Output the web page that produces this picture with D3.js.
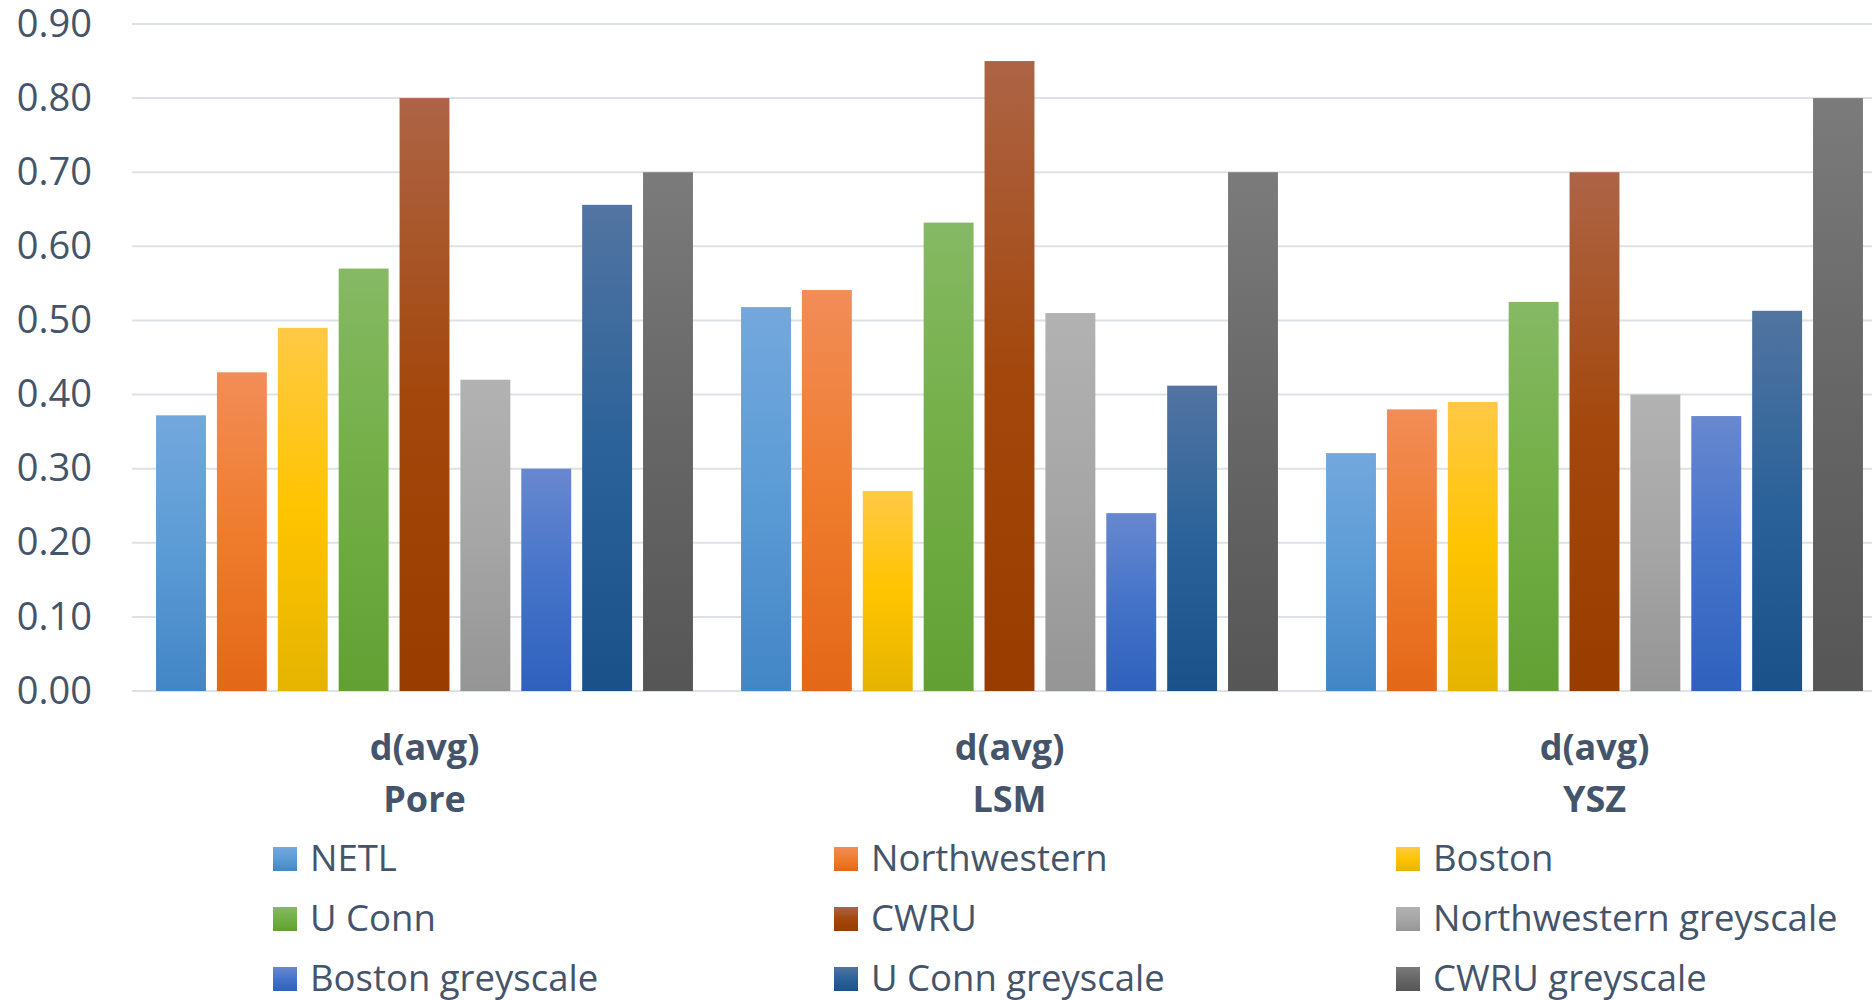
<!DOCTYPE html>
<html>
<head>
<meta charset="utf-8">
<script src="https://cdn.jsdelivr.net/npm/d3@7/dist/d3.min.js"></script>
<style>
  html, body { margin: 0; padding: 0; background: #ffffff; }
  svg { display: block; font-family: "Open Sans", sans-serif; }
</style>
</head>
<body>
<svg id="chart" width="1872" height="1000"></svg>
<script>
// Mean diameter d(avg) for each phase, per lab / segmentation
const categories = ["Pore", "LSM", "YSZ"];
const seriesNames = [
  "NETL", "Northwestern", "Boston", "U Conn", "CWRU",
  "Northwestern greyscale", "Boston greyscale", "U Conn greyscale", "CWRU greyscale"
];
const netl         = [0.372, 0.518, 0.321];
const northwestern = [0.43, 0.541, 0.38];
const boston       = [0.49, 0.27, 0.39];
const uconn        = [0.57, 0.632, 0.525];
const cwru         = [0.80, 0.85, 0.70];
const nwGrey       = [0.42, 0.51, 0.40];
const bostonGrey   = [0.30, 0.24, 0.371];
const uconnGrey    = [0.656, 0.412, 0.513];
const cwruGrey     = [0.70, 0.70, 0.80];
const yTicks = [0, 0.1, 0.2, 0.3, 0.4, 0.5, 0.6, 0.7, 0.8, 0.9];

const seriesValues = [netl, northwestern, boston, uconn, cwru, nwGrey, bostonGrey, uconnGrey, cwruGrey];

// light / base / dark stops for each series' vertical gradient
const seriesColors = [
  ["#73a8dd", "#5b9bd5", "#4386c6"],
  ["#f18d58", "#ef7c2e", "#e36817"],
  ["#ffc945", "#ffc400", "#e5b400"],
  ["#86b964", "#72ae45", "#62a034"],
  ["#ad6446", "#a3470c", "#993c00"],
  ["#b2b2b2", "#a6a6a6", "#959595"],
  ["#6888cf", "#4573c9", "#2f61bd"],
  ["#5274a1", "#2b6299", "#1a5189"],
  ["#7b7b7b", "#666666", "#565656"]
];

const textColor = "#44546a";
const svg = d3.select("#chart");

const plotLeft = 132, plotRight = 1887, plotTop = 24, plotBottom = 691;

const y = d3.scaleLinear().domain([0, 0.9]).range([plotBottom, plotTop]);
const x0 = d3.scaleBand().domain(categories).range([plotLeft, plotRight]).padding(0);
const x1 = d3.scaleBand().domain(seriesNames).range([0, x0.bandwidth()])
  .paddingInner(0.18).paddingOuter(0.395);

// gradients
const defs = svg.append("defs");
seriesNames.forEach((name, i) => {
  const g = defs.append("linearGradient")
    .attr("id", "grad" + i)
    .attr("x1", 0).attr("y1", 0).attr("x2", 0).attr("y2", 1);
  g.append("stop").attr("offset", "0%").attr("stop-color", seriesColors[i][0]);
  g.append("stop").attr("offset", "50%").attr("stop-color", seriesColors[i][1]);
  g.append("stop").attr("offset", "100%").attr("stop-color", seriesColors[i][2]);
});

// gridlines
svg.append("g")
  .selectAll("line")
  .data(yTicks)
  .join("line")
  .attr("x1", plotLeft).attr("x2", plotRight)
  .attr("y1", d => y(d)).attr("y2", d => y(d))
  .attr("stroke", "#dde2e8")
  .attr("stroke-width", 2);

// y axis labels
const yAxis = d3.axisLeft(y).tickValues(yTicks).tickFormat(d3.format(".2f")).tickSize(0).tickPadding(40);
const yg = svg.append("g").attr("transform", `translate(${plotLeft},0)`).call(yAxis);
yg.select(".domain").remove();
yg.selectAll("text")
  .attr("fill", textColor)
  .style("font-family", "'Open Sans', sans-serif")
  .style("font-size", "38px");

// bars
const groups = svg.append("g")
  .selectAll("g")
  .data(categories)
  .join("g")
  .attr("transform", d => `translate(${x0(d)},0)`);

groups.selectAll("rect")
  .data((c, ci) => seriesNames.map((s, si) => ({ s, si, v: seriesValues[si][ci] })))
  .join("rect")
  .attr("x", d => x1(d.s))
  .attr("width", x1.bandwidth())
  .attr("y", d => y(d.v))
  .attr("height", d => y(0) - y(d.v))
  .attr("fill", d => `url(#grad${d.si})`);

// category labels, two lines centred under each group
const catX = d => x0(d) + x0.bandwidth() / 2;
const catLabels = svg.append("g")
  .selectAll("text")
  .data(categories)
  .join("text")
  .attr("text-anchor", "middle")
  .attr("fill", textColor)
  .style("font-size", "36px")
  .style("font-weight", "700");
catLabels.append("tspan").attr("x", catX).attr("y", 760).text("d(avg)");
catLabels.append("tspan").attr("x", catX).attr("y", 812).text(d => d);

// legend: three columns, three rows
const legendX = [273, 834, 1396];
const legendY = [847, 907, 967];
const legend = svg.append("g")
  .selectAll("g")
  .data(seriesNames)
  .join("g")
  .attr("transform", (d, i) => `translate(${legendX[i % 3]},${legendY[Math.floor(i / 3)]})`);
legend.append("rect")
  .attr("width", 24).attr("height", 24)
  .attr("fill", (d, i) => `url(#grad${i})`);
legend.append("text")
  .attr("x", 37).attr("y", 24)
  .attr("fill", textColor)
  .style("font-size", "36.5px")
  .text(d => d);
</script>
</body>
</html>
